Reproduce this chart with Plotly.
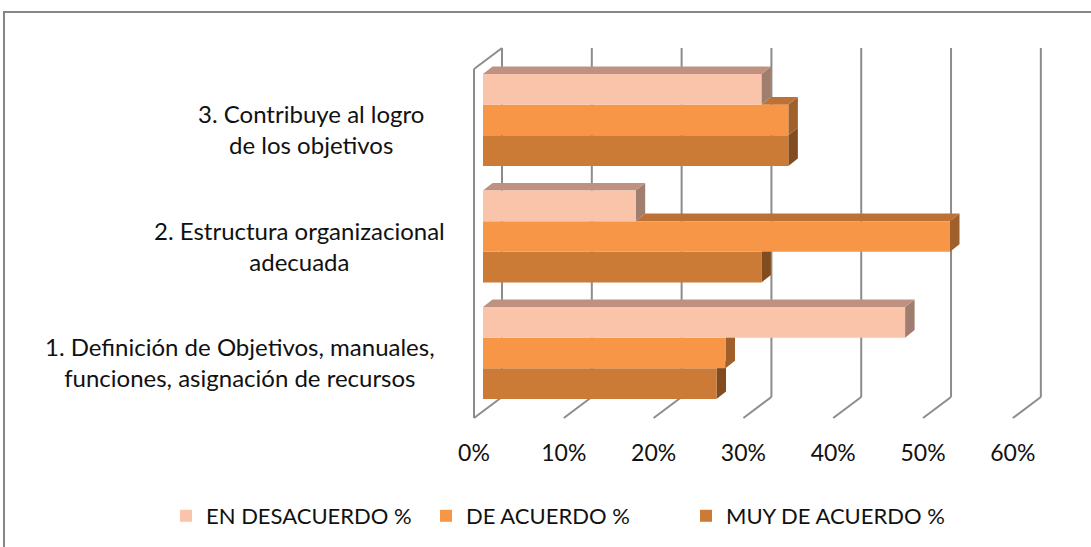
import plotly.graph_objects as go

# ---------------- data ----------------
category_lines = [
    "1. Definición de Objetivos, manuales,<br>funciones, asignación de recursos",
    "2. Estructura organizacional<br>adecuada",
    "3. Contribuye al logro<br>de los objetivos",
]
category_pos = [0, 1, 2]
series_names = ["EN DESACUERDO %", "DE ACUERDO %", "MUY DE ACUERDO %"]
en_desacuerdo = [47, 17, 31]
de_acuerdo = [27, 52, 34]
muy_de_acuerdo = [26, 31, 34]
tick_vals = [0, 10, 20, 30, 40, 50, 60]
tick_text = ["0%", "10%", "20%", "30%", "40%", "50%", "60%"]

# ---------------- style ----------------
FONT = "Lato"
TXT = "#111111"
GRID = "#8C8C8C"
front_col = {"en": "#F9C4AA", "de": "#F79646", "muy": "#CC7B37"}
top_col = {"en": "#BE9181", "de": "#BD7134", "muy": "#9C5D28"}
side_col = {"en": "#A07E6F", "de": "#9F602B", "muy": "#834C20"}

W, H = 1091, 547
ML, MR, MT, MB = 470, 31, 40, 117
XR = [-1.448, 64.25]
YR = [-0.661, 2.687]
BARGAP = 0.21
DX, DY = 1.06, 0.065          # bar depth (data units)
WALL_DX, WALL_DY = 3.118, 0.18  # floor depth
FRONT_SHIFT = 1.002             # front plane offset of axis labels

fig = go.Figure()

# order bottom->top in group: muy, de, en
order = [("muy", muy_de_acuerdo, series_names[2], 3),
         ("de", de_acuerdo, series_names[1], 2),
         ("en", en_desacuerdo, series_names[0], 1)]
bw = (1 - BARGAP) / 3

for key, vals, name, rank in order:
    fig.add_trace(go.Bar(
        y=category_pos, x=vals, orientation="h", name=name,
        marker=dict(color=front_col[key], line=dict(width=0)),
        legendrank=rank, zorder=2, hoverinfo="skip"))

# 3D faces derived from values
above = {"muy": de_acuerdo, "de": en_desacuerdo, "en": None}
for k, (key, vals, name, rank) in enumerate(order):
    sx, sy, tx, ty = [], [], [], []
    for i, c in enumerate(category_pos):
        v = vals[i]
        yc = c + (k - 1) * bw
        yb, yt = yc - bw / 2, yc + bw / 2
        sx += [v, v, v + DX, v + DX, v, None]
        sy += [yb, yt, yt + DY, yb + DY, yb, None]
        a = above[key][i] if above[key] is not None else 0
        if v > a:
            tx += [a, v, v + DX, a + DX, a, None]
            ty += [yt, yt, yt + DY, yt + DY, yt, None]
    fig.add_trace(go.Scatter(x=sx, y=sy, mode="lines", fill="toself",
                             fillcolor=side_col[key], line=dict(width=0),
                             showlegend=False, hoverinfo="skip", zorder=1))
    if tx:
        fig.add_trace(go.Scatter(x=tx, y=ty, mode="lines", fill="toself",
                                 fillcolor=top_col[key], line=dict(width=0),
                                 showlegend=False, hoverinfo="skip", zorder=1))

# invisible trace to activate label axis
fig.add_trace(go.Scatter(x=[0], y=[0], xaxis="x2", mode="markers",
                         marker=dict(opacity=0), showlegend=False, hoverinfo="skip"))

# walls / floor grid
floor_front_y = YR[0] + 0.103
shapes = []
for t in tick_vals:
    xf = t - FRONT_SHIFT
    xb = xf + WALL_DX
    shapes.append(dict(type="line", xref="x", yref="y", x0=xb, x1=xb,
                       y0=floor_front_y + WALL_DY, y1=2.618,
                       line=dict(color=GRID, width=2), layer="below"))
    shapes.append(dict(type="line", xref="x", yref="y", x0=xf, x1=xb,
                       y0=floor_front_y, y1=floor_front_y + WALL_DY,
                       line=dict(color=GRID, width=2), layer="below"))
xl = tick_vals[0] - FRONT_SHIFT
shapes.append(dict(type="line", xref="x", yref="y", x0=xl, x1=xl,
                   y0=floor_front_y, y1=2.618 - WALL_DY,
                   line=dict(color=GRID, width=2), layer="below"))
shapes.append(dict(type="line", xref="x", yref="y", x0=xl, x1=xl + WALL_DX,
                   y0=2.618 - WALL_DY, y1=2.618,
                   line=dict(color=GRID, width=2), layer="below"))
# chart-area border
pw, ph = W - ML - MR, H - MT - MB
shapes.append(dict(type="rect", xref="paper", yref="paper",
                   x0=(4 - ML) / pw, x1=1.5, y0=-0.6, y1=(H - MB - 12) / ph,
                   line=dict(color="#868686", width=2), layer="below"))

annotations = []
label_cx = [240, 299, 311]
for c, txt, cx in zip(category_pos, category_lines, label_cx):
    annotations.append(dict(xref="paper", yref="y", x=(cx - ML) / pw, y=c,
                            yshift=-9, text=txt, showarrow=False,
                            xanchor="center", yanchor="middle", align="center",
                            font=dict(family=FONT, size=24, color=TXT)))

fig.update_layout(
    width=W, height=H,
    margin=dict(l=ML, r=MR, t=MT, b=MB, autoexpand=False),
    paper_bgcolor="white", plot_bgcolor="rgba(0,0,0,0)",
    barmode="group", bargap=BARGAP, bargroupgap=0,
    font=dict(family=FONT, size=22, color=TXT),
    xaxis=dict(range=XR, showgrid=False, zeroline=False, showticklabels=False,
               showline=False, fixedrange=True),
    xaxis2=dict(range=[XR[0] + FRONT_SHIFT, XR[1] + FRONT_SHIFT], overlaying="x",
                side="bottom", anchor="y", tickvals=tick_vals, ticktext=tick_text,
                showgrid=False, zeroline=False, showline=False, ticks="",
                ticklabelstandoff=7,
                tickfont=dict(family=FONT, size=23, color=TXT), fixedrange=True),
    yaxis=dict(range=YR, showgrid=False, zeroline=False, showticklabels=False,
               showline=False, fixedrange=True),
    legend=dict(orientation="h", xref="paper", x=(166 - ML) / pw, xanchor="left",
                yref="paper", y=(H - MB - 516) / ph, yanchor="middle",
                entrywidth=215, entrywidthmode="pixels",
                font=dict(family=FONT, size=22, color=TXT),
                bgcolor="rgba(0,0,0,0)"),
    shapes=shapes, annotations=annotations,
)

fig.write_html("out.html", config={"displayModeBar": False},
               post_script="document.body.style.margin='0';")
